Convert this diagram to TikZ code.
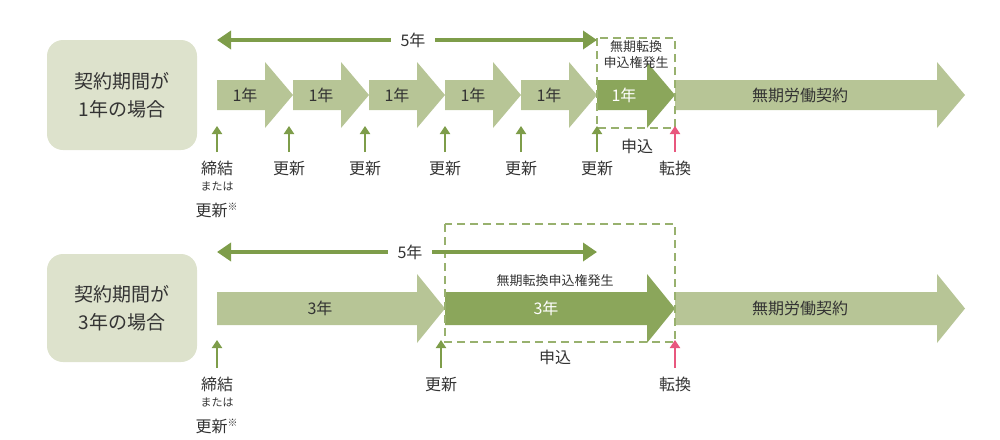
\documentclass[tikz,border=0pt]{standalone}
\usepackage{fontspec}
\setmainfont{Noto Sans CJK JP}
\usetikzlibrary{arrows.meta}
\definecolor{lt}{HTML}{B7C596}
\definecolor{dk}{HTML}{8BA65B}
\definecolor{bx}{HTML}{DDE2CC}
\definecolor{ln}{HTML}{7E9D4A}
\definecolor{pk}{HTML}{E8577E}
\definecolor{tx}{HTML}{333333}
\begin{document}
\begin{tikzpicture}[x=0.5pt,y=-0.5pt,font=\fontsize{8}{10}\selectfont,text=tx,
  lab/.style={rounded corners=8pt,fill=bx,align=center,font=\fontsize{9.5}{14}\selectfont},
  up/.style={-{Triangle[length=4pt,width=5pt]},line width=1pt,draw=ln},
  upk/.style={-{Triangle[length=4pt,width=5pt]},line width=1pt,draw=pk},
  dbl/.style={{Triangle[length=7pt,width=9pt]}-{Triangle[length=7pt,width=9pt]},line width=2.2pt,draw=ln},
  dsh/.style={draw=ln!80,dashed,line width=1pt,dash pattern=on 4pt off 2.5pt}]
\useasboundingbox (0,0) rectangle (1000,439);
\newcommand\arr[6]{% x0 x1 headx ytop ybot color
 \fill[#6] (#1,#4) -- (#3,#4) -- (#3,#4-18) -- (#2,{(#4+#5)/2}) -- (#3,#5+18) -- (#3,#5) -- (#1,#5) -- cycle;}
% top row
\node[lab,minimum width=75pt,minimum height=55pt] (b1) at (122,95) {契約期間が\\1年の場合};
\foreach \a in {217,293,369,445,521}{\arr{\a}{\a+76}{\a+48}{80}{110}{lt}}
\arr{597}{675}{647}{80}{110}{dk}
\arr{675}{965}{937}{80}{110}{lt}
\foreach \a/\n in {217/1,293/2,369/3,445/4,521/5}{\node[text=tx] (y\n) at (\a+28,95) {1年};}
\node[text=white] (y6) at (624,95) {1年};
\node (m1) at (800,95) {無期労働契約};
\draw[dsh] (597,38) rectangle (675,128);
\node[align=center,font=\fontsize{6.5}{8}\selectfont] (k1) at (636,55) {無期転換\\申込権発生};
\coordinate (a1) at (217,40); \coordinate (a2) at (597,40);
\draw[dbl] (a1) -- (a2);
\node[fill=white,inner sep=5pt] (f1) at (413,40) {5年};
\foreach \x/\t [count=\i] in {217/締結,289/更新,365/更新,445/更新,521/更新,597/更新}{
  \coordinate (u\i) at (\x,152); \coordinate (v\i) at (\x,126);
  \draw[up] (u\i) -- (v\i);
  \node (t\i) at (\x,168) {\t};}
\coordinate (p1) at (675,152); \coordinate (q1) at (675,126);
\draw[upk] (p1) -- (q1);
\node (c1) at (675,168) {転換};
\node (s1) at (637,146) {申込};
\node[font=\fontsize{5.5}{6}\selectfont] (w1) at (217,186) {または};
\node (r1) at (217,210) {更新\textsuperscript{\tiny ※}};
% bottom row
\node[lab,minimum width=75pt,minimum height=54pt] (b2) at (122,308) {契約期間が\\3年の場合};
\arr{217}{445}{417}{292}{325}{lt}
\arr{445}{675}{647}{292}{325}{dk}
\arr{675}{965}{937}{292}{325}{lt}
\node (z1) at (320,308) {3年};
\node[text=white] (z2) at (546,308) {3年};
\node (m2) at (800,308) {無期労働契約};
\draw[dsh] (445,224) rectangle (675,342);
\node[font=\fontsize{6.5}{8}\selectfont] (k2) at (555,281) {無期転換申込権発生};
\coordinate (a3) at (217,252); \coordinate (a4) at (597,252);
\draw[dbl] (a3) -- (a4);
\node[fill=white,inner sep=5pt] (f2) at (410,252) {5年};
\coordinate (u7) at (217,368); \coordinate (v7) at (217,340);
\coordinate (u8) at (441,368); \coordinate (v8) at (441,340);
\draw[up] (u7) -- (v7); \draw[up] (u8) -- (v8);
\coordinate (p2) at (675,368); \coordinate (q2) at (675,340);
\draw[upk] (p2) -- (q2);
\node (t7) at (217,384) {締結};
\node (t8) at (441,384) {更新};
\node (c2) at (675,384) {転換};
\node (s2) at (555,357) {申込};
\node[font=\fontsize{5.5}{6}\selectfont] (w2) at (217,402) {または};
\node (r2) at (217,426) {更新\textsuperscript{\tiny ※}};
\end{tikzpicture}
\end{document}
